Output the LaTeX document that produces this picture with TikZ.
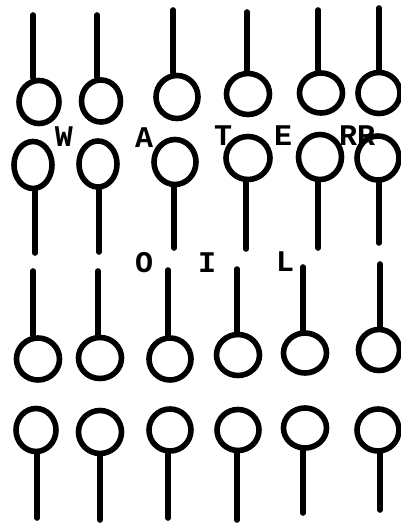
\documentclass[tikz,border=0pt]{standalone}
\usepackage{fontspec}
\setmonofont{Liberation Mono}
\usetikzlibrary{shapes.geometric}
\tikzset{
  head/.style={draw=black, ellipse, line width=5.6pt, inner sep=0pt},
  stem/.style={draw=black, line width=5.6pt, line cap=round},
  letter/.style={font=\ttfamily\bfseries\fontsize{30}{30}\selectfont, inner sep=0pt}
}
\begin{document}
\begin{tikzpicture}[x=1pt, y=-1pt]
\useasboundingbox (0,0) rectangle (400,525);
% row 1: heads with tails up
\foreach \n/\cx/\cy/\sx/\sy/\w/\h in {1/39/102/33/15/38/41, 2/101/101/97/15/37/40, 3/177/97/173/10/40/41, 4/248/94/247/12/41/39, 5/321/93/318/10/41/38, 6/379/93/379/8/40/39}{
  \node[head, minimum width=\w pt+2pt, minimum height=\h pt+2pt] (a\n) at (\cx,\cy) {};
  \coordinate (ta\n) at (\sx,\sy);
  \draw[stem] (ta\n) -- (ta\n |- a\n.north);
}
% row 2: heads with tails down
\foreach \n/\cx/\cy/\sx/\sy/\w/\h in {1/33/165/35/253/36/45, 2/98/164/99/252/36/44, 3/175/162/174/248/40/43, 4/248/158/246/249/42/41, 5/320/157/318/248/41/43, 6/378/158/379/243/40/42}{
  \node[head, minimum width=\w pt+2pt, minimum height=\h pt+2pt] (b\n) at (\cx,\cy) {};
  \coordinate (tb\n) at (\sx,\sy);
  \draw[stem] (tb\n) -- (tb\n |- b\n.south);
}
% row 3: heads with tails up
\foreach \n/\cx/\cy/\sx/\sy/\w/\h in {1/38/359/33/271/42/41, 2/100/358/98/271/42/40, 3/170/359/168/270/41/41, 4/238/355/237/269/42/40, 5/305/353/303/267/42/39, 6/379/350/380/264/40/40}{
  \node[head, minimum width=\w pt+1pt, minimum height=\h pt+1pt] (c\n) at (\cx,\cy) {};
  \coordinate (tc\n) at (\sx,\sy);
  \draw[stem] (tc\n) -- (tc\n |- c\n.north);
}
% row 4: heads with tails down
\foreach \n/\cx/\cy/\sx/\sy/\w/\h in {1/36/430/37/518/39/42, 2/100/432/100/520/42/42, 3/170/430/168/518/41/41, 4/238/430/237/520/41/40, 5/305/428/303/513/42/39, 6/378/430/380/510/41/41}{
  \node[head, minimum width=\w pt+1pt, minimum height=\h pt+1pt] (d\n) at (\cx,\cy) {};
  \coordinate (td\n) at (\sx,\sy);
  \draw[stem] (td\n) -- (td\n |- d\n.south);
}
% labels
\node[letter] (lw) at (64,137) {W};
\node[letter] (la) at (144,138) {A};
\node[letter] (lt) at (223,136) {T};
\node[letter] (le) at (283,136) {E};
\node[letter] (lr) at (357,136) {RR};
\node[letter] (lo) at (144,263) {O};
\node[letter] (li) at (207,263) {I};
\node[letter] (ll) at (285,262) {L};
\end{tikzpicture}
\end{document}
